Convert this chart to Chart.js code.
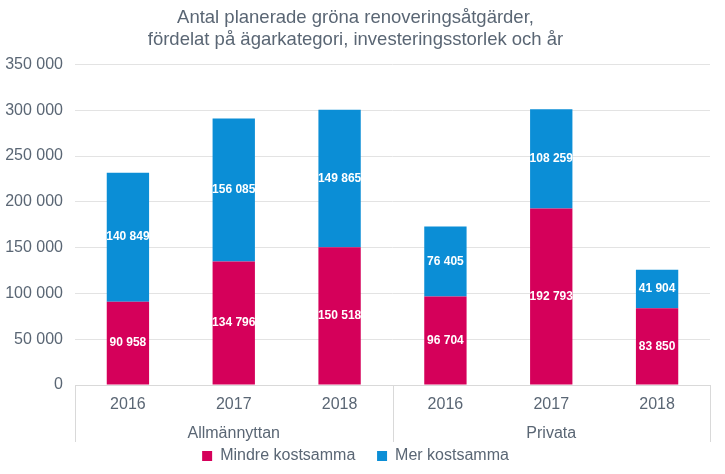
<!DOCTYPE html>
<html>
<head>
<meta charset="utf-8">
<script src="https://cdn.jsdelivr.net/npm/chart.js@4/dist/chart.umd.min.js"></script>
<style>
  html, body { margin: 0; padding: 0; background: #fff; }
  #wrap { width: 725px; height: 474px; }
</style>
</head>
<body>
<div id="wrap"><canvas id="chart"></canvas></div>
<script>
// data
const years = ["2016", "2017", "2018", "2016", "2017", "2018"];
const groups = ["Allmännyttan", "Privata"];
const mindre = [90958, 134796, 150518, 96704, 192793, 83850];
const mer = [140849, 156085, 149865, 76405, 108259, 41904];
const titleLines = ["Antal planerade gröna renoveringsåtgärder,", "fördelat på ägarkategori, investeringsstorlek och år"];

const textColor = "#5a6674";
const family = "'Liberation Sans', Arial, sans-serif";
const fmt = (v) => String(v).replace(/\B(?=(\d{3})+(?!\d))/g, " ");

// white value labels inside the bars
const barLabels = {
    id: "barLabels",
    afterDatasetsDraw(chart) {
        const ctx = chart.ctx;
        ctx.save();
        ctx.font = "bold 12px " + family;
        ctx.fillStyle = "#fff";
        ctx.textAlign = "center";
        ctx.textBaseline = "middle";
        chart.data.datasets.forEach((ds, i) => {
            chart.getDatasetMeta(i).data.forEach((bar, j) => {
                const p = bar.getCenterPoint();
                ctx.fillText(fmt(ds.data[j]), p.x, p.y);
            });
        });
        ctx.restore();
    },
};

// separators between the two groups under the axis
const groupLines = {
    id: "groupLines",
    afterDraw(chart) {
        const x = chart.scales.x;
        const x2 = chart.scales.x2;
        const ctx = chart.ctx;
        const mid = (x.getPixelForValue(2) + x.getPixelForValue(3)) / 2;
        ctx.save();
        ctx.strokeStyle = "#d9d9d9";
        ctx.lineWidth = 1;
        [x.left, mid, x.right].forEach((px) => {
            ctx.beginPath();
            ctx.moveTo(Math.round(px) + 0.5, x.top);
            ctx.lineTo(Math.round(px) + 0.5, x2.bottom - 2);
            ctx.stroke();
        });
        ctx.restore();
    },
};

new Chart(document.getElementById("chart"), {
    type: "bar",
    data: {
        labels: years,
        datasets: [
            {
                label: "Mindre kostsamma",
                data: mindre,
                backgroundColor: "#d5005a",
                categoryPercentage: 1,
                barPercentage: 0.4,
            },
            {
                label: "Mer kostsamma",
                data: mer,
                backgroundColor: "#0b8ed6",
                categoryPercentage: 1,
                barPercentage: 0.4,
            },
        ],
    },
    options: {
        responsive: true,
        maintainAspectRatio: false,
        animation: false,
        layout: { padding: { left: 1, right: 15, top: 0, bottom: 0 } },
        scales: {
            x: {
                stacked: true,
                grid: { display: false, drawTicks: false },
                border: { color: "#d9d9d9" },
                ticks: {
                    color: textColor,
                    font: { size: 16, family: family },
                    padding: 10,
                    minRotation: 0,
                    maxRotation: 0,
                    autoSkip: false,
                },
                afterFit: (scale) => { scale.height = 29; },
            },
            x2: {
                type: "category",
                position: "bottom",
                labels: groups,
                offset: true,
                grid: { display: false, drawTicks: false },
                border: { display: false },
                ticks: {
                    color: textColor,
                    font: { size: 16, family: family },
                    padding: 10,
                    minRotation: 0,
                    maxRotation: 0,
                    autoSkip: false,
                },
                afterFit: (scale) => { scale.height = 30; },
            },
            y: {
                stacked: true,
                min: 0,
                max: 350000,
                ticks: {
                    stepSize: 50000,
                    color: textColor,
                    font: { size: 16, family: family },
                    padding: 12,
                    callback: (v) => fmt(v),
                },
                grid: { color: "#e3e3e3", drawTicks: false },
                border: { display: false },
                afterFit: (scale) => { scale.width = 74; },
            },
        },
        plugins: {
            title: {
                display: true,
                text: titleLines,
                color: textColor,
                font: { size: 18.5, weight: "normal", family: family, lineHeight: 1.2 },
                padding: { top: 7, bottom: 13 },
            },
            legend: {
                position: "bottom",
                labels: {
                    color: textColor,
                    font: { size: 16, family: family },
                    boxWidth: 10,
                    boxHeight: 10,
                    padding: 4,
                    generateLabels: (chart) => {
                        const items = Chart.defaults.plugins.legend.labels.generateLabels(chart);
                        // a bit more room between the two entries
                        items[0].text = items[0].text + "    ";
                        return items;
                    },
                },
            },
            tooltip: { enabled: false },
        },
    },
    plugins: [barLabels, groupLines],
});
</script>
</body>
</html>
